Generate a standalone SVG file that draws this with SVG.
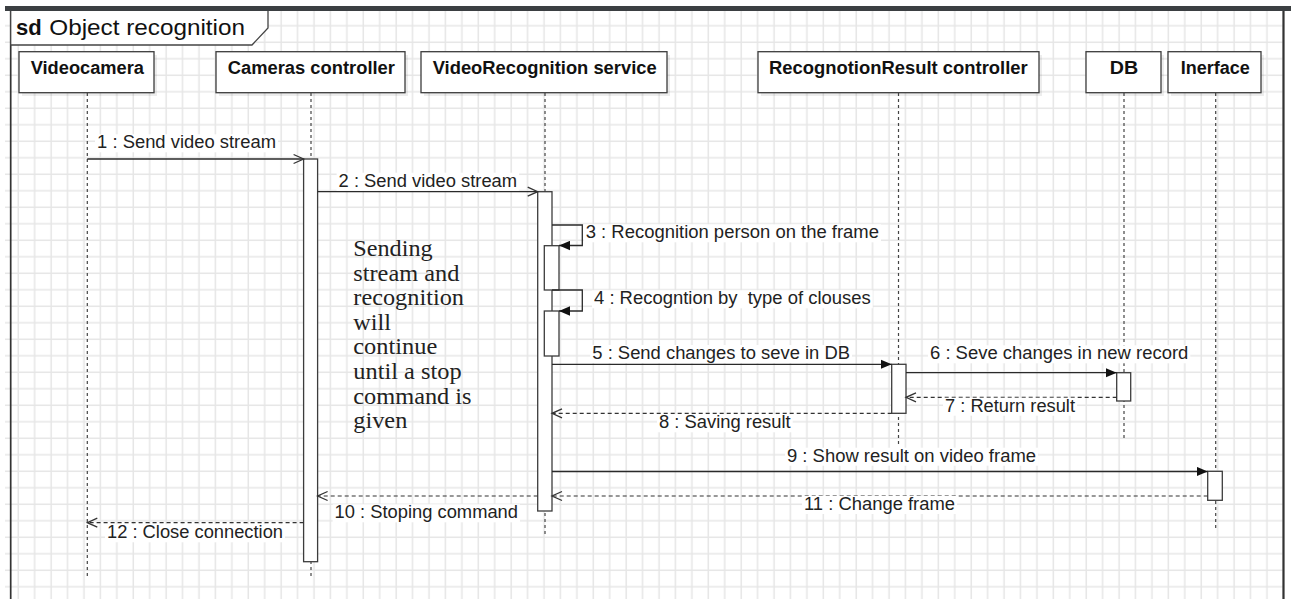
<svg xmlns="http://www.w3.org/2000/svg" width="1291" height="599" viewBox="0 0 1291 599">
<style>
.box{fill:#fff;stroke:#3c3c3c;stroke-width:1.3}
.shadow{fill:#000;opacity:.07}
.hdr{font-family:"Liberation Sans",Arial,sans-serif;font-weight:bold;font-size:18px;fill:#111}
.lbl{font-family:"Liberation Sans",Arial,sans-serif;font-size:17.5px;fill:#222;white-space:pre}
.lblbg{fill:#fff}
.life{stroke:#444;stroke-width:1.2;stroke-dasharray:3 3;fill:none}
.act{fill:#fff;stroke:#3c3c3c;stroke-width:1.3}
.msg{stroke:#2a2a2a;stroke-width:1.3;fill:none}
.ret{stroke:#333;stroke-width:1.2;fill:none;stroke-dasharray:4 3}
.note{font-family:"Liberation Serif","Times New Roman",serif;font-size:22.5px;fill:#222}
.title{font-family:"Liberation Sans",Arial,sans-serif;font-size:22px;fill:#111}
</style>
<defs>
<pattern id="grid" x="10.3" y="100.3" width="16.43" height="16.5" patternUnits="userSpaceOnUse">
<path d="M8 0 V16.5 M0 8 H16.43" stroke="#e6e6e6" stroke-width="1.5" fill="none"/>
</pattern>
<marker id="fa" viewBox="0 0 11 10" refX="11" refY="5" markerWidth="11" markerHeight="10" markerUnits="userSpaceOnUse" orient="auto">
<path d="M0,0.3 L11,5 L0,9.7 z" fill="#111"/>
</marker>
<marker id="oa" viewBox="-1 -1 12 12" refX="10" refY="5" markerWidth="12" markerHeight="12" markerUnits="userSpaceOnUse" orient="auto" overflow="visible">
<path d="M0,0.5 L10,5 L0,9.5" fill="none" stroke="#333" stroke-width="1.3"/>
</marker>
</defs>
<rect width="1291" height="599" fill="#fff"/>
<rect x="5" y="11" width="1278" height="588" fill="url(#grid)"/>
<rect x="5" y="6" width="1286" height="5" fill="#3b3f42"/>
<line x1="10.7" y1="11" x2="10.7" y2="599" stroke="#333" stroke-width="1.7"/>
<line x1="1283.5" y1="11" x2="1283.5" y2="599" stroke="#333" stroke-width="2.2"/>
<g id="frame-title">
<path d="M10.7,11 V45 H252 L268,28 V11" fill="#fff" stroke="#444" stroke-width="1.3"/>
<text class="title" x="16" y="35" font-weight="bold" textLength="25.7" lengthAdjust="spacingAndGlyphs">sd</text>
<text class="title" x="49.3" y="35" textLength="195.7" lengthAdjust="spacingAndGlyphs">Object recognition</text>
</g>
<g id="videocamera">
<line class="life" x1="87.3" y1="93" x2="87.3" y2="576"/>
<rect class="shadow" x="22" y="55" width="135" height="41"/>
<rect class="box" x="19" y="51.7" width="135" height="41"/>
<text class="hdr" x="30.7" y="74" textLength="113.3" lengthAdjust="spacingAndGlyphs">Videocamera</text>
</g>
<g id="cameras-controller">
<line class="life" x1="311" y1="93" x2="311" y2="576"/>
<rect class="shadow" x="219" y="55" width="189" height="41"/>
<rect class="box" x="216" y="51.7" width="189" height="41"/>
<text class="hdr" x="227.7" y="74" textLength="167.3" lengthAdjust="spacingAndGlyphs">Cameras controller</text>
<rect class="act" x="303.6" y="159" width="14" height="402.7"/>
</g>
<g id="videorecognition-service">
<line class="life" x1="545" y1="93" x2="545" y2="535"/>
<rect class="shadow" x="424" y="55" width="246" height="41"/>
<rect class="box" x="421" y="51.7" width="246" height="41"/>
<text class="hdr" x="432.7" y="74" textLength="224" lengthAdjust="spacingAndGlyphs">VideoRecognition service</text>
<rect class="act" x="537.7" y="191.7" width="14.3" height="319.3"/>
<rect class="act" x="544.3" y="245.7" width="14.7" height="44.3"/>
<rect class="act" x="544.3" y="311" width="14.7" height="45"/>
</g>
<g id="recognotionresult-controller">
<line class="life" x1="898.5" y1="93" x2="898.5" y2="447"/>
<rect class="shadow" x="761" y="55" width="281" height="41"/>
<rect class="box" x="758" y="51.7" width="281" height="41"/>
<text class="hdr" x="769" y="74" textLength="258.7" lengthAdjust="spacingAndGlyphs">RecognotionResult controller</text>
<rect class="act" x="891.7" y="364.3" width="14.3" height="49"/>
</g>
<g id="db">
<line class="life" x1="1124" y1="93" x2="1124" y2="440"/>
<rect class="shadow" x="1089" y="55" width="75" height="41"/>
<rect class="box" x="1086" y="51.7" width="75" height="41"/>
<text class="hdr" x="1109.7" y="74" textLength="28.4" lengthAdjust="spacingAndGlyphs">DB</text>
<rect class="act" x="1116.7" y="372.7" width="14" height="28.3"/>
</g>
<g id="inerface">
<line class="life" x1="1215.7" y1="93" x2="1215.7" y2="528.3"/>
<rect class="shadow" x="1171" y="55" width="93" height="41"/>
<rect class="box" x="1168" y="51.7" width="93" height="41"/>
<text class="hdr" x="1180.7" y="74" textLength="69.2" lengthAdjust="spacingAndGlyphs">Inerface</text>
<rect class="act" x="1207.7" y="471.3" width="14.6" height="29"/>
</g>
<g id="note">
<text class="note" x="353.3" y="256" textLength="79.3" lengthAdjust="spacingAndGlyphs">Sending</text>
<text class="note" x="353.3" y="280.6" textLength="106" lengthAdjust="spacingAndGlyphs">stream and</text>
<text class="note" x="353.3" y="305.2" textLength="110.7" lengthAdjust="spacingAndGlyphs">recognition</text>
<text class="note" x="353.3" y="329.8" textLength="37.7" lengthAdjust="spacingAndGlyphs">will</text>
<text class="note" x="353.3" y="354.4" textLength="84" lengthAdjust="spacingAndGlyphs">continue</text>
<text class="note" x="353.3" y="379" textLength="108.3" lengthAdjust="spacingAndGlyphs">until a stop</text>
<text class="note" x="353.3" y="403.6" textLength="118.3" lengthAdjust="spacingAndGlyphs">command is</text>
<text class="note" x="353.3" y="428.2" textLength="54" lengthAdjust="spacingAndGlyphs">given</text>
</g>
<g id="connectors">
<line class="msg" x1="87.3" y1="159" x2="303.6" y2="159" marker-end="url(#oa)"/>
<rect class="lblbg" x="95" y="134.3" width="183" height="18"/>
<text class="lbl" x="97.1" y="148.3" textLength="178.9" lengthAdjust="spacingAndGlyphs">1 : Send video stream</text>

<line class="msg" x1="317.6" y1="191.7" x2="537.7" y2="191.7" marker-end="url(#oa)"/>
<rect class="lblbg" x="336.6" y="172.7" width="182.5" height="18"/>
<text class="lbl" x="338.6" y="186.7" textLength="178.5" lengthAdjust="spacingAndGlyphs">2 : Send video stream</text>

<path class="msg" d="M552,225 H582.3 V245.5 H559" marker-end="url(#fa)"/>
<rect class="lblbg" x="583.7" y="224.3" width="297.3" height="18"/>
<text class="lbl" x="585.7" y="238.3" textLength="293.3" lengthAdjust="spacingAndGlyphs">3 : Recognition person on the frame</text>

<path class="msg" d="M552,290 H582.3 V311 H559" marker-end="url(#fa)"/>
<rect class="lblbg" x="592" y="290.3" width="280.7" height="18"/>
<text class="lbl" x="594" y="304.3" textLength="276.7" lengthAdjust="spacingAndGlyphs">4 : Recogntion by  type of clouses</text>

<line class="msg" x1="552" y1="364.3" x2="891.7" y2="364.3" marker-end="url(#fa)"/>
<rect class="lblbg" x="590.3" y="345" width="261.7" height="18"/>
<text class="lbl" x="592.3" y="359" textLength="257.7" lengthAdjust="spacingAndGlyphs">5 : Send changes to seve in DB</text>

<line class="msg" x1="906" y1="372.7" x2="1116.7" y2="372.7" marker-end="url(#fa)"/>
<rect class="lblbg" x="928" y="345.3" width="262.3" height="18"/>
<text class="lbl" x="930" y="359.3" textLength="258.3" lengthAdjust="spacingAndGlyphs">6 : Seve changes in new record</text>

<line class="ret" x1="1116.7" y1="397.3" x2="906" y2="397.3" marker-end="url(#oa)"/>
<rect class="lblbg" x="943" y="397.7" width="134" height="18"/>
<text class="lbl" x="945" y="411.7" textLength="130" lengthAdjust="spacingAndGlyphs">7 : Return result</text>

<line class="ret" x1="891.7" y1="413.3" x2="552" y2="413.3" marker-end="url(#oa)"/>
<rect class="lblbg" x="657" y="414.3" width="135.7" height="18"/>
<text class="lbl" x="659" y="428.3" textLength="131.7" lengthAdjust="spacingAndGlyphs">8 : Saving result</text>

<line class="msg" x1="552" y1="471.5" x2="1207.7" y2="471.5" marker-end="url(#fa)"/>
<rect class="lblbg" x="785" y="447.7" width="253" height="18"/>
<text class="lbl" x="787" y="461.7" textLength="249" lengthAdjust="spacingAndGlyphs">9 : Show result on video frame</text>

<line class="ret" x1="537.7" y1="496" x2="317.6" y2="496" marker-end="url(#oa)"/>
<rect class="lblbg" x="332.6" y="504.3" width="187.4" height="18"/>
<text class="lbl" x="334.6" y="518.3" textLength="183.4" lengthAdjust="spacingAndGlyphs">10 : Stoping command</text>

<line class="ret" x1="1207.7" y1="496" x2="552" y2="496" marker-end="url(#oa)"/>
<rect class="lblbg" x="802" y="496" width="155" height="18"/>
<text class="lbl" x="804" y="510" textLength="151" lengthAdjust="spacingAndGlyphs">11 : Change frame</text>

<line class="ret" x1="303.6" y1="522.7" x2="87.3" y2="522.7" marker-end="url(#oa)"/>
<rect class="lblbg" x="105" y="524.3" width="180" height="18"/>
<text class="lbl" x="107" y="538.3" textLength="176" lengthAdjust="spacingAndGlyphs">12 : Close connection</text>
</g>
</svg>
